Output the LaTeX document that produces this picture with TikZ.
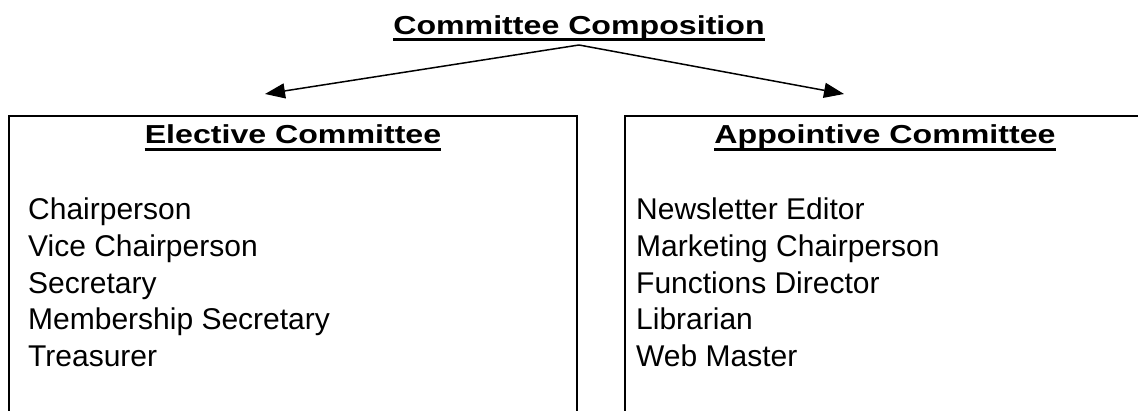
\documentclass[tikz,border=0pt]{standalone}
\usepackage{fontspec}
\setmainfont{Liberation Sans}
\usetikzlibrary{arrows.meta,calc}
\newcommand{\widebold}[1]{\scalebox{1.236}[1]{#1}}
\begin{document}
\begin{tikzpicture}[x=1pt,y=-1pt,
  hdr/.style={inner sep=0pt, font=\fontsize{26}{30}\selectfont\bfseries, anchor=base},
  item/.style={inner sep=0pt, font=\fontsize{30}{34}\selectfont, anchor=base west},
  uline/.style={line width=3pt},
  boxline/.style={line width=2pt},
  conn/.style={line width=1.5pt, -{Triangle[length=20pt,width=15pt]}}]
\useasboundingbox (0,0) rectangle (1138,411);
% title
\node[hdr] (title) at (579,35) {\widebold{Committee Composition}};
\draw[uline] ($(title.base west)+(0,5)$) -- ($(title.base east)+(0,5)$);
% connectors
\coordinate (apex) at (579,45);
\coordinate (ltip) at (265,94);
\coordinate (rtip) at (844,94);
\draw[conn] (apex) -- (ltip);
\draw[conn] (apex) -- (rtip);
% boxes (open at bottom / right)
\draw[boxline] (9,413) -- (9,116) -- (577,116) -- (577,413);
\draw[boxline] (625,413) -- (625,116) -- (1140,116);
% headers
\node[hdr] (eh) at (293,143.5) {\widebold{Elective Committee}};
\draw[uline] ($(eh.base west)+(0,6.5)$) -- ($(eh.base east)+(0,6.5)$);
\node[hdr] (ah) at (885,143.5) {\widebold{Appointive Committee}};
\draw[uline] ($(ah.base west)+(0,6.5)$) -- ($(ah.base east)+(0,6.5)$);
% lists
\foreach \t [count=\i] in {Chairperson, Vice Chairperson, Secretary, Membership Secretary, Treasurer}
  \node[item] (e\i) at ({28},{220+36.6*(\i-1)}) {\t};
\foreach \t [count=\i] in {Newsletter Editor, Marketing Chairperson, Functions Director, Librarian, Web Master}
  \node[item] (a\i) at ({636},{220+36.6*(\i-1)}) {\t};
\end{tikzpicture}
\end{document}
